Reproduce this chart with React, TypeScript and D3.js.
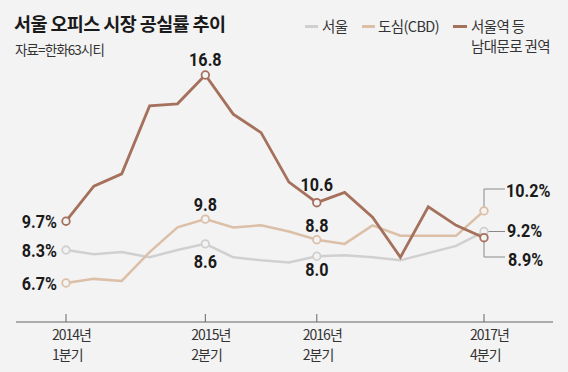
import * as d3 from 'd3';

// quarters 2014 Q1 .. 2017 Q4
const quarters = [
  '2014Q1', '2014Q2', '2014Q3', '2014Q4',
  '2015Q1', '2015Q2', '2015Q3', '2015Q4',
  '2016Q1', '2016Q2', '2016Q3', '2016Q4',
  '2017Q1', '2017Q2', '2017Q3', '2017Q4',
];

const seoul = [8.3, 8.1, 8.2, 7.95, 8.3, 8.6, 7.95, 7.8, 7.7, 8.0, 8.05, 7.95, 7.8, 8.15, 8.5, 9.2];
const cbd = [6.7, 6.9, 6.8, 8.2, 9.4, 9.8, 9.4, 9.5, 9.2, 8.8, 8.6, 9.5, 9.0, 9.0, 9.0, 10.2];
const station = [9.7, 11.4, 12.0, 15.3, 15.4, 16.8, 14.9, 14.0, 11.6, 10.6, 11.1, 9.9, 7.95, 10.4, 9.5, 8.9];

const tickQuarters = ['2014Q1', '2015Q2', '2016Q2', '2017Q4'];
const tickLabels = [
  ['2014년', '1분기'],
  ['2015년', '2분기'],
  ['2016년', '2분기'],
  ['2017년', '4분기'],
];

const markedIdx = [0, 5, 9, 15];

const BG = '#f3f3f3';
const C_SEOUL = '#d0d0d0';
const C_CBD = '#dcbfa7';
const C_STATION = '#a5705c';

const NUM_FONT = 'Roboto, "Liberation Sans", sans-serif';
const KR_FONT = '"Noto Sans CJK KR", "Noto Sans", sans-serif';

// condensed bold number label
function Num({ x, y, anchor = 'start', children }: { x: number; y: number; anchor?: string; children: any }) {
  return (
    <text
      transform={`translate(${x},${y}) scale(0.85,1)`}
      textAnchor={anchor}
      fontFamily={NUM_FONT}
      fontWeight={700}
      fontSize={19}
      fill="#1a1a1a"
    >
      {children}
    </text>
  );
}

export default function App() {
  const width = 568;
  const height = 372;

  const x = d3.scalePoint<string>().domain(quarters).range([66, 484]);
  const y = d3.scaleLinear().domain([6.7, 16.8]).range([283, 75]);

  const line = d3
    .line<number>()
    .x((_, i) => x(quarters[i])!)
    .y((d) => y(d));

  const series = [
    { name: 'seoul', values: seoul, color: C_SEOUL, w: 2.5 },
    { name: 'cbd', values: cbd, color: C_CBD, w: 2.5 },
    { name: 'station', values: station, color: C_STATION, w: 2.8 },
  ];

  const px = (i: number) => x(quarters[i])!;
  const last = quarters.length - 1;

  return (
    <svg
      width={width}
      height={height}
      style={{ position: 'absolute', left: 0, top: 0, background: BG }}
    >
      <rect width={width} height={height} fill={BG} />

      {/* title */}
      <text x={14} y={31} fontFamily={KR_FONT} fontWeight={700} fontSize={18.5} letterSpacing={-0.6} fill="#1a1a1a">
        서울 오피스 시장 공실률 추이
      </text>
      <text x={15} y={55} fontFamily={KR_FONT} fontSize={13.5} letterSpacing={-0.9} fill="#333">
        자료=한화63시티
      </text>

      {/* legend */}
      <g fontFamily={KR_FONT} fontSize={14.5} letterSpacing={-0.6} fill="#333">
        <line x1={305} x2={318} y1={26.5} y2={26.5} stroke={C_SEOUL} strokeWidth={3} />
        <text x={322} y={32}>서울</text>
        <line x1={362} x2={375} y1={26.5} y2={26.5} stroke={C_CBD} strokeWidth={3} />
        <text x={378} y={32}>도심(CBD)</text>
        <line x1={453} x2={467} y1={26.5} y2={26.5} stroke={C_STATION} strokeWidth={3} />
        <text x={471} y={32}>서울역 등</text>
        <text x={471} y={52}>남대문로 권역</text>
      </g>

      {/* axis */}
      <line x1={16} x2={553} y1={322} y2={322} stroke="#666" strokeWidth={1} />
      {tickQuarters.map((q, k) => (
        <g key={q} fontFamily={KR_FONT} fontSize={14} letterSpacing={-1} fill="#333">
          <line x1={x(q)!} x2={x(q)!} y1={314} y2={322} stroke="#666" strokeWidth={1} />
          <text x={x(q)! - 14} y={340}>{tickLabels[k][0]}</text>
          <text x={x(q)! - 14} y={360}>{tickLabels[k][1]}</text>
        </g>
      ))}

      {/* leader lines at right */}
      <g stroke="#888" strokeWidth={1} fill="none">
        <polyline points={`${px(last)},${y(cbd[last]) - 4} ${px(last)},189 505,189`} />
        <line x1={px(last) + 4} x2={505} y1={y(seoul[last])} y2={y(seoul[last])} />
        <polyline points={`${px(last)},${y(station[last]) + 4} ${px(last)},257 505,257`} />
      </g>

      {/* lines */}
      {series.map((s) => (
        <path key={s.name} d={line(s.values)!} fill="none" stroke={s.color} strokeWidth={s.w} strokeLinejoin="miter" />
      ))}

      {/* markers */}
      {series.map((s) =>
        markedIdx.map((i) => (
          <circle
            key={s.name + i}
            cx={px(i)}
            cy={y(s.values[i])}
            r={3.8}
            fill={BG}
            stroke={s.color}
            strokeWidth={1.8}
          />
        ))
      )}

      {/* left labels */}
      <Num x={px(0) - 9} y={y(station[0]) + 7} anchor="end">{station[0].toFixed(1)}%</Num>
      <Num x={px(0) - 9} y={y(seoul[0]) + 7} anchor="end">{seoul[0].toFixed(1)}%</Num>
      <Num x={px(0) - 9} y={y(cbd[0]) + 7} anchor="end">{cbd[0].toFixed(1)}%</Num>

      {/* middle labels */}
      <Num x={px(5)} y={y(station[5]) - 9} anchor="middle">{station[5].toFixed(1)}</Num>
      <Num x={px(5)} y={y(cbd[5]) - 8} anchor="middle">{cbd[5].toFixed(1)}</Num>
      <Num x={px(5)} y={y(seoul[5]) + 24} anchor="middle">{seoul[5].toFixed(1)}</Num>
      <Num x={px(9)} y={y(station[9]) - 12} anchor="middle">{station[9].toFixed(1)}</Num>
      <Num x={px(9)} y={y(cbd[9]) - 8} anchor="middle">{cbd[9].toFixed(1)}</Num>
      <Num x={px(9)} y={y(seoul[9]) + 20} anchor="middle">{seoul[9].toFixed(1)}</Num>

      {/* right labels */}
      <Num x={506} y={197}>{cbd[last].toFixed(1)}%</Num>
      <Num x={507} y={237}>{seoul[last].toFixed(1)}%</Num>
      <Num x={508} y={266}>{station[last].toFixed(1)}%</Num>
    </svg>
  );
}
